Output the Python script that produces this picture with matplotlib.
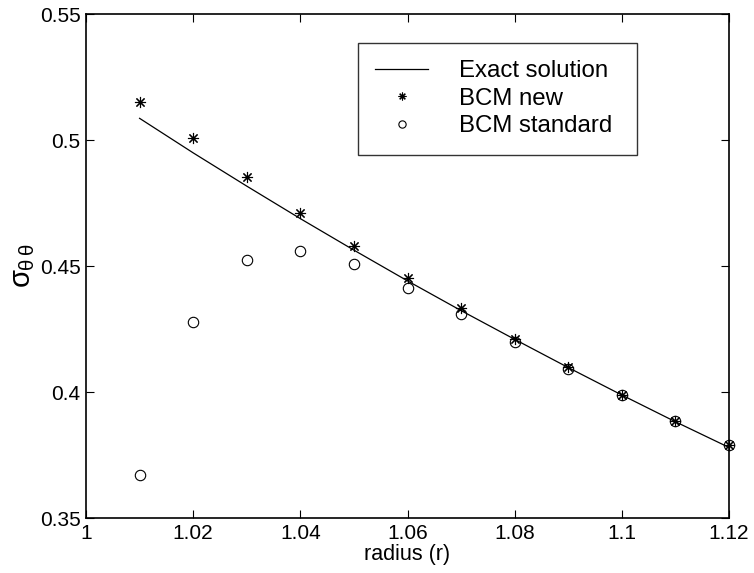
import matplotlib
matplotlib.use("Agg")
import matplotlib.pyplot as plt

plt.rcParams['font.family'] = ['Liberation Sans', 'DejaVu Sans']
plt.rcParams['mathtext.fontset'] = 'custom'
plt.rcParams['mathtext.rm'] = 'Liberation Sans'
plt.rcParams['mathtext.it'] = 'Liberation Sans'

# Exact solution
r_exact = [1.01, 1.02, 1.03, 1.04, 1.05, 1.06, 1.07, 1.08, 1.09, 1.10, 1.11, 1.12]
s_exact = [0.5086, 0.4949, 0.4817, 0.4688, 0.4563, 0.4441, 0.4323, 0.4209,
           0.4097, 0.3988, 0.3882, 0.3780]

# BCM new (asterisks)
r_new = [1.01, 1.02, 1.03, 1.04, 1.05, 1.06, 1.07, 1.08, 1.09, 1.10, 1.11, 1.12]
s_new = [0.5152, 0.5007, 0.4854, 0.4712, 0.4579, 0.4451, 0.4332, 0.4209,
         0.4098, 0.3988, 0.3886, 0.3790]

# BCM standard (circles)
r_std = [1.01, 1.02, 1.03, 1.04, 1.05, 1.06, 1.07, 1.08, 1.09, 1.10, 1.11, 1.12]
s_std = [0.3671, 0.4277, 0.4524, 0.4561, 0.4507, 0.4414, 0.4310, 0.4197,
         0.4090, 0.3988, 0.3886, 0.3790]

xticks = [1, 1.02, 1.04, 1.06, 1.08, 1.1, 1.12]
xticklabels = ['1', '1.02', '1.04', '1.06', '1.08', '1.1', '1.12']
yticks = [0.35, 0.4, 0.45, 0.5, 0.55]
yticklabels = ['0.35', '0.4', '0.45', '0.5', '0.55']

fig = plt.figure(figsize=(7.54, 5.73), dpi=100)
ax = fig.add_axes([86/754, 1 - 518/573, (729-86)/754, (518-14)/573])

asterisk = (8, 2, 0)

ax.plot(r_exact, s_exact, color='black', linewidth=0.9, label='Exact solution')
ax.plot(r_new, s_new, linestyle='none', marker=asterisk, markersize=8,
        markerfacecolor='black', markeredgecolor='black', markeredgewidth=0.8,
        label='BCM new', clip_on=False)
ax.plot(r_std, s_std, linestyle='none', marker='o', markersize=7.5,
        markerfacecolor='none', markeredgecolor='black', markeredgewidth=0.8,
        label='BCM standard', clip_on=False)

ax.set_xlim(1, 1.12)
ax.set_ylim(0.35, 0.55)
ax.set_xticks(xticks)
ax.set_xticklabels(xticklabels)
ax.set_yticks(yticks)
ax.set_yticklabels(yticklabels)
ax.tick_params(direction='in', top=True, right=True, length=6, width=0.8,
               labelsize=15, pad=4)
for s in ax.spines.values():
    s.set_linewidth(1.2)

ax.set_xlabel('radius (r)', fontsize=15.5, labelpad=1)
ax.set_ylabel(r'$\sigma_{\theta\,\theta}$', fontsize=21, labelpad=2)

x0 = (358-86)/643
w = (637-358)/643
ytop = (518-43)/504
leg = ax.legend(loc='upper left', bbox_to_anchor=(x0, ytop - 0.4, w, 0.4),
                mode='expand', fontsize=17.3, frameon=True, fancybox=False,
                edgecolor='black', handlelength=2.2, handletextpad=1.3,
                borderpad=0.72, labelspacing=0.23, borderaxespad=0,
                markerscale=0.7)
leg.get_frame().set_linewidth(1.0)

fig.savefig('out.png', dpi=100)
